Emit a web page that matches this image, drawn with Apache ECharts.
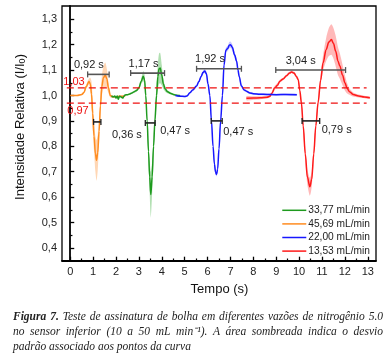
<!DOCTYPE html>
<html><head><meta charset="utf-8">
<script src="https://cdn.jsdelivr.net/npm/echarts@6/dist/echarts.min.js"></script>
<style>html,body{margin:0;padding:0;background:#fff}#c{width:391px;height:364px}</style>
</head><body><div id="c"></div>
<script>
// ---------- tick labels ----------
const xMajor = [0,1,2,3,4,5,6,7,8,9,10,11,12,13];
const xMinor = [0.5,1.5,2.5,3.5,4.5,5.5,6.5,7.5,8.5,9.5,10.5,11.5,12.5];
const yMajor = [0.4,0.5,0.6,0.7,0.8,0.9,1.0,1.1,1.2,1.3];
const yMinor = [0.45,0.55,0.65,0.75,0.85,0.95,1.05,1.15,1.25];

// ---------- series: 45,69 mL/min (orange) ----------
const orangeT = [0,0.3,0.5,0.6,0.7,0.82,0.88,0.93,0.98,1.04,1.1,1.15,1.2,1.26,1.32,1.38,1.45,1.53,1.6,1.67,1.75,1.85,2.0,2.2,2.4];
const orangeV = [1.0,1.0,1.004,1.012,1.035,1.055,1.045,1.005,0.93,0.84,0.77,0.745,0.775,0.86,0.96,1.035,1.07,1.08,1.065,1.03,1.0,0.995,0.995,0.997,0.998];
const orangeSD = [0.002,0.002,0.003,0.005,0.008,0.012,0.025,0.05,0.06,0.06,0.07,0.08,0.07,0.05,0.04,0.04,0.045,0.05,0.04,0.02,0.008,0.004,0.003,0.003,0.003];

// ---------- series: 33,77 mL/min (green) ----------
const greenT = [1.8,1.9,1.95,2.0,2.05,2.1,2.15,2.2,2.3,2.35,2.4,2.5,2.6,2.7,2.8,2.9,3.0,3.1,3.19,3.25,3.3,3.36,3.42,3.47,3.52,3.58,3.64,3.7,3.77,3.83,3.88,3.93,4.0,4.07,4.15,4.25,4.4,4.55,4.7,4.8];
const greenV = [0.997,0.995,0.998,0.99,0.998,0.985,0.997,0.995,0.99,0.998,1.002,1.003,1.006,1.01,1.015,1.02,1.03,1.055,1.076,1.06,1.0,0.9,0.78,0.68,0.61,0.68,0.8,0.9,1.0,1.075,1.105,1.108,1.08,1.045,1.025,1.015,1.008,1.003,1.0,0.999];
const greenSD = [0.003,0.003,0.003,0.003,0.003,0.003,0.003,0.003,0.003,0.003,0.003,0.003,0.003,0.004,0.004,0.005,0.006,0.01,0.02,0.02,0.015,0.02,0.03,0.06,0.09,0.06,0.03,0.03,0.04,0.05,0.06,0.06,0.04,0.02,0.01,0.006,0.004,0.004,0.004,0.004];

// ---------- series: 22,00 mL/min (blue) ----------
const blueT = [4.6,4.8,5.0,5.1,5.23,5.35,5.52,5.62,5.72,5.8,5.88,5.95,6.02,6.1,6.17,6.24,6.3,6.35,6.39,6.44,6.5,6.57,6.65,6.72,6.8,6.88,6.95,7.0,7.08,7.18,7.27,7.33,7.38,7.48,7.6,7.7,7.85,8.0,8.3,8.6,9.0,9.4,9.9];
const blueV = [1.0,0.997,0.996,0.998,1.011,1.022,1.037,1.055,1.075,1.09,1.096,1.085,1.045,1.0,0.9,0.8,0.73,0.698,0.689,0.71,0.79,0.9,1.0,1.12,1.178,1.185,1.198,1.2,1.19,1.16,1.135,1.1,1.076,1.037,1.022,1.017,1.01,1.007,1.005,1.004,1.003,1.004,1.003];
const blueSD = [0.003,0.003,0.003,0.003,0.004,0.004,0.005,0.005,0.006,0.007,0.008,0.008,0.008,0.008,0.008,0.008,0.008,0.008,0.008,0.008,0.008,0.008,0.008,0.008,0.01,0.01,0.012,0.012,0.012,0.01,0.01,0.008,0.008,0.006,0.005,0.004,0.004,0.004,0.004,0.004,0.004,0.004,0.004];

// ---------- series: 13,53 mL/min (red) ----------
const redT = [7.7,8.0,8.3,8.6,8.72,8.8,8.94,9.05,9.16,9.3,9.45,9.58,9.67,9.78,9.88,9.96,10.03,10.1,10.18,10.27,10.36,10.47,10.55,10.64,10.73,10.83,10.94,11.05,11.18,11.3,11.41,11.5,11.6,11.7,11.78,11.9,12.0,12.1,12.2,12.36,12.6,12.85,13.09];
const redV = [0.989,0.99,0.991,0.993,0.997,1.008,1.03,1.04,1.056,1.065,1.078,1.088,1.092,1.088,1.075,1.063,1.02,0.971,0.88,0.77,0.68,0.641,0.67,0.77,0.88,0.972,1.06,1.129,1.18,1.21,1.22,1.205,1.174,1.135,1.116,1.08,1.05,1.028,1.015,1.004,0.998,0.994,0.991];
const redSD = [0.008,0.007,0.006,0.005,0.005,0.006,0.008,0.008,0.006,0.005,0.005,0.005,0.005,0.005,0.006,0.008,0.01,0.015,0.02,0.025,0.03,0.035,0.03,0.02,0.015,0.015,0.02,0.03,0.045,0.055,0.06,0.06,0.06,0.055,0.05,0.04,0.03,0.02,0.012,0.008,0.006,0.005,0.005];

// ---------- legend names ----------
const seriesNames = ['33,77 mL/min','45,69 mL/min','22,00 mL/min','13,53 mL/min'];

// ---------- reference levels ----------
const refLevels = [1.03, 0.97];
const refLabels = ['1,03','0,97'];
const refSpan = [-0.15, 12.95];

// ---------- width annotations ----------
const barFrom  = [0.76, 1.02, 2.64, 3.28, 5.52, 6.16, 8.98, 10.13];
const barTo    = [1.70, 1.34, 4.12, 3.71, 7.48, 6.64, 12.03, 10.90];
const barLevel = [1.083, 0.896, 1.088, 0.892, 1.105, 0.9, 1.1, 0.9];
const barText  = ['0,92 s','0,36 s','1,17 s','0,47 s','1,92 s','0,47 s','3,04 s','0,79 s'];

// layout of annotation labels (pixels), kept apart from the data
const barLabelLayout = [
  {ref:'mid', dx:-9.5, dy:-9.5}, {ref:'end', dx:11, dy:13.5},
  {ref:'mid', dx:-4,   dy:-9},   {ref:'end', dx:5,  dy:8.5},
  {ref:'mid', dx:-9,   dy:-10},  {ref:'end', dx:1,  dy:11},
  {ref:'mid', dx:-10,  dy:-9},   {ref:'end', dx:2,  dy:9.5}
];
const barColors = ['#555','#222','#555','#222','#555','#222','#555','#222'];

const FONT = '"Liberation Sans", Arial, sans-serif';
const SERIF = '"Liberation Serif", "Times New Roman", serif';

function pairs(t, v) { return t.map((x, i) => [x, v[i]]); }

function band(name, t, v, sd, color) {
  return {
    type: 'custom', name: name + ' band', silent: true, z: 1,
    xAxisIndex: 0, yAxisIndex: 0,
    data: [[t[0], v[0]]],
    renderItem: function (params, api) {
      const up = t.map((x, i) => api.coord([x, v[i] + sd[i]]));
      const lo = t.map((x, i) => api.coord([x, v[i] - sd[i]])).reverse();
      return { type: 'polygon', shape: { points: up.concat(lo), smooth: 0.25 }, style: { fill: color, stroke: null } };
    }
  };
}
function line(name, t, v, color, z) {
  return {
    type: 'line', name: name, data: pairs(t, v), showSymbol: false, symbol: 'none',
    smooth: 0.35, smoothMonotone: 'x', z: z, xAxisIndex: 0, yAxisIndex: 0,
    lineStyle: { color: color, width: 1.5 }, itemStyle: { color: color }, silent: true
  };
}

const cOrange = '#ff8c1f', cGreen = '#1e9a1e', cBlue = '#1717ff', cRed = '#ff1a1a';

const series = [
  band('o', orangeT, orangeV, orangeSD, 'rgba(255,150,60,0.38)'),
  band('g', greenT, greenV, greenSD, 'rgba(50,170,50,0.38)'),
  band('r', redT, redV, redSD, 'rgba(255,70,70,0.38)'),
  band('b', blueT, blueV, blueSD, 'rgba(70,70,255,0.3)'),
  line(seriesNames[1], orangeT, orangeV, cOrange, 3),
  line(seriesNames[0], greenT, greenV, cGreen, 4),
  line(seriesNames[3], redT, redV, cRed, 5),
  line(seriesNames[2], blueT, blueV, cBlue, 6)
];

refLevels.forEach((lv, k) => {
  series.push({
    type: 'line', name: 'ref' + k, data: [[refSpan[0], lv], [refSpan[1], lv]],
    showSymbol: false, symbol: 'none', silent: true, z: 7,
    lineStyle: { color: '#ee1111', width: 1.4, type: [7, 4] }
  });
});

series.push({
  type: 'custom', name: 'widths', silent: true, z: 8,
  encode: { x: [0, 1], y: 2 },
  data: barFrom.map((f, i) => [f, barTo[i], barLevel[i]]),
  renderItem: function (params, api) {
    const i = params.dataIndex;
    const p1 = api.coord([api.value(0), api.value(2)]);
    const p2 = api.coord([api.value(1), api.value(2)]);
    const col = barColors[i], cap = 3;
    const L = barLabelLayout[i];
    let lx, align;
    if (L.ref === 'mid') { lx = (p1[0] + p2[0]) / 2 + L.dx; align = 'center'; }
    else { lx = p2[0] + L.dx; align = 'left'; }
    return {
      type: 'group', children: [
        { type: 'line', shape: { x1: p1[0], y1: p1[1], x2: p2[0], y2: p2[1] }, style: { stroke: col, lineWidth: 1.6 } },
        { type: 'line', shape: { x1: p1[0], y1: p1[1] - cap, x2: p1[0], y2: p1[1] + cap }, style: { stroke: col, lineWidth: 1.3 } },
        { type: 'line', shape: { x1: p2[0], y1: p2[1] - cap, x2: p2[0], y2: p2[1] + cap }, style: { stroke: col, lineWidth: 1.3 } },
        { type: 'text', x: lx, y: p1[1] + L.dy, style: { text: barText[i], fontSize: 11, fontFamily: FONT, fill: '#222', align: align, verticalAlign: 'middle' } }
      ]
    };
  }
});

const comma1 = v => (Math.round(v * 10) / 10).toFixed(1).replace('.', ',');

// caption (justified words)
const captionLines = [
  [['Figura', true], ['7.', true], ['Teste', false], ['de', false], ['assinatura', false], ['de', false], ['bolha', false], ['em', false], ['diferentes', false], ['vazões', false], ['de', false], ['nitrogênio', false], ['5.0', false]],
  [['no', false], ['sensor', false], ['inferior', false], ['(10', false], ['a', false], ['50', false], ['mL', false], ['min⁻¹).', false], ['A', false], ['área', false], ['sombreada', false], ['indica', false], ['o', false], ['desvio', false]],
  [['padrão', false], ['associado', false], ['aos', false], ['pontos', false], ['da', false], ['curva', false]]
];
const capFS = 11.5, capLeft = 13, capRight = 383, capY = [317, 332, 346.5];
const mctx = document.createElement('canvas').getContext('2d');
function mw(txt, bold) { mctx.font = 'italic ' + (bold ? 'bold ' : '') + capFS + 'px "Liberation Serif"'; return mctx.measureText(txt).width; }
const graphics = [];
captionLines.forEach((words, li) => {
  const widths = words.map(w => mw(w[0], w[1]));
  const total = widths.reduce((a, b) => a + b, 0);
  const gap = li < 2 ? (capRight - capLeft - total) / (words.length - 1) : mw(' ', false);
  let x = capLeft;
  words.forEach((w, k) => {
    graphics.push({ type: 'text', x: x, y: capY[li], style: { text: w[0], fontSize: capFS, fontStyle: 'italic', fontWeight: w[1] ? 'bold' : 'normal', fontFamily: SERIF, fill: '#222', align: 'left', verticalAlign: 'middle' } });
    x += widths[k] + gap;
  });
});
graphics.push({ type: 'text', x: 20, y: 127, rotation: Math.PI / 2, style: {
  text: '{a|Intensidade Relativa (I/I}{s|0}{a|)}', align: 'center', verticalAlign: 'middle',
  rich: { a: { fontSize: 13, fontFamily: FONT, fill: '#111' }, s: { fontSize: 9, fontFamily: FONT, fill: '#111', padding: [6, 0, 0, 0] } } } });
graphics.push({ type: 'text', x: 219.5, y: 289.5, style: { text: 'Tempo (s)', fontSize: 13, fontFamily: FONT, fill: '#111', align: 'center', verticalAlign: 'middle' } });
graphics.push({ type: 'text', x: 74, y: 82, z: 10, style: { text: refLabels[0], fontSize: 11, fontFamily: FONT, fill: '#ee1111', align: 'center', verticalAlign: 'middle' } });
graphics.push({ type: 'text', x: 78, y: 111, z: 10, style: { text: refLabels[1], fontSize: 11, fontFamily: FONT, fill: '#ee1111', align: 'center', verticalAlign: 'middle' } });

const XMIN = -0.36, XMAX = 13.36, YMIN = 0.35, YMAX = 1.352;

const option = {
  animation: false,
  backgroundColor: '#fff',
  grid: { left: 62, right: 15, top: 6, bottom: 103.3, show: true, borderColor: '#000', borderWidth: 1.3, backgroundColor: 'transparent' },
  legend: {
    orient: 'vertical', right: 21, top: 203.5, padding: 0, itemGap: 0,
    itemWidth: 24, itemHeight: 1.5, icon: 'rect',
    data: seriesNames,
    textStyle: { fontSize: 10.2, fontFamily: FONT, color: '#222', lineHeight: 13.6, padding: [0, 0, 0, -3] },
    selectedMode: false
  },
  xAxis: [
    { type: 'value', min: XMIN, max: XMAX, position: 'bottom',
      axisLine: { show: true, lineStyle: { color: '#000', width: 1.8 } },
      axisTick: { show: true, inside: true, length: 4, customValues: xMajor, lineStyle: { color: '#000', width: 1.3 } },
      axisLabel: { show: true, customValues: xMajor, margin: 6, fontSize: 11, fontFamily: FONT, color: '#222', formatter: v => String(Math.round(v)) },
      splitLine: { show: false } },
    { type: 'value', min: XMIN, max: XMAX, position: 'bottom', offset: 0,
      axisLine: { show: false },
      axisTick: { show: true, inside: true, length: 2.2, customValues: xMinor, lineStyle: { color: '#000', width: 1.2 } },
      axisLabel: { show: false }, splitLine: { show: false } }
  ],
  yAxis: [
    { type: 'value', min: YMIN, max: YMAX, position: 'left',
      axisLine: { show: true, lineStyle: { color: '#000', width: 1.8 } },
      axisTick: { show: true, inside: true, length: 4, customValues: yMajor, lineStyle: { color: '#000', width: 1.3 } },
      axisLabel: { show: true, customValues: yMajor, margin: 5, fontSize: 11, fontFamily: FONT, color: '#222', formatter: comma1 },
      splitLine: { show: false } },
    { type: 'value', min: YMIN, max: YMAX, position: 'left', offset: 0,
      axisLine: { show: false },
      axisTick: { show: true, inside: true, length: 2.2, customValues: yMinor, lineStyle: { color: '#000', width: 1.2 } },
      axisLabel: { show: false }, splitLine: { show: false } }
  ],
  graphic: graphics,
  series: series
};

const chart = echarts.init(document.getElementById('c'));
chart.setOption(option);
</script>
</body></html>
